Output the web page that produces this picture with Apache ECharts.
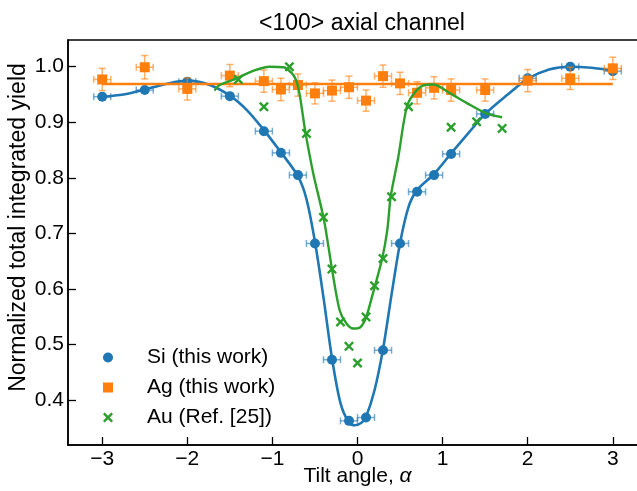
<!DOCTYPE html>
<html>
<head>
<meta charset="utf-8">
<script src="https://cdn.jsdelivr.net/npm/echarts@6/dist/echarts.min.js"></script>
<style>html,body{margin:0;padding:0;background:#fff;}#chart{width:637px;height:491px;}</style>
</head>
<body>
<div id="chart"></div>
<script>
// ---- data ----
const xTicks = [-3, -2, -1, 0, 1, 2, 3];
const yTicks = [0.4, 0.5, 0.6, 0.7, 0.8, 0.9, 1.0];

const siX    = [-3, -2.5, -2, -1.5, -1.1, -0.9, -0.7, -0.5, -0.3, -0.1, 0.1, 0.3, 0.5, 0.7, 0.9, 1.1, 1.5, 2, 2.5, 3];
const siY    = [0.946, 0.958, 0.973, 0.947, 0.884, 0.845, 0.805, 0.682, 0.473, 0.363, 0.369, 0.490, 0.682, 0.775, 0.805, 0.843, 0.915, 0.979, 1.000, 0.992];
const siXErr = [0.1, 0.1, 0.1, 0.1, 0.1, 0.1, 0.1, 0.1, 0.1, 0.1, 0.1, 0.1, 0.1, 0.1, 0.1, 0.1, 0.1, 0.1, 0.1, 0.1];

const agX    = [-3, -2.5, -2, -1.5, -1.1, -0.9, -0.7, -0.5, -0.3, -0.1, 0.1, 0.3, 0.5, 0.7, 0.9, 1.1, 1.5, 2, 2.5, 3];
const agY    = [0.977, 0.999, 0.960, 0.984, 0.974, 0.959, 0.967, 0.952, 0.957, 0.963, 0.939, 0.983, 0.970, 0.953, 0.962, 0.958, 0.958, 0.975, 0.979, 0.997];
const agXErr = [0.1, 0.1, 0.1, 0.1, 0.1, 0.1, 0.1, 0.1, 0.1, 0.1, 0.1, 0.1, 0.1, 0.1, 0.1, 0.1, 0.1, 0.1, 0.1, 0.1];
const agYErr = [0.02, 0.021, 0.02, 0.02, 0.02, 0.02, 0.02, 0.019, 0.019, 0.02, 0.019, 0.02, 0.02, 0.02, 0.02, 0.02, 0.02, 0.02, 0.02, 0.02];

const auX = [-1.4, -1.1, -0.8, -0.6, -0.4, -0.3, -0.2, -0.1, 0.0, 0.1, 0.2, 0.3, 0.4, 0.6, 1.1, 1.4, 1.7];
const auY = [0.977, 0.928, 1.000, 0.880, 0.729, 0.636, 0.541, 0.497, 0.467, 0.550, 0.606, 0.655, 0.766, 0.928, 0.891, 0.901, 0.889];

const siFitX = [-3.0, -2.75, -2.5, -2.25, -2.0, -1.75, -1.5, -1.3, -1.1, -0.9, -0.7, -0.6, -0.5, -0.4, -0.3, -0.2, -0.1, -0.03, 0.05, 0.1, 0.2, 0.3, 0.4, 0.5, 0.6, 0.7, 0.9, 1.1, 1.3, 1.5, 1.75, 2.0, 2.25, 2.5, 2.75, 3.0];
const siFitY = [0.946, 0.950, 0.959, 0.969, 0.975, 0.968, 0.948, 0.922, 0.886, 0.846, 0.803, 0.762, 0.685, 0.585, 0.476, 0.395, 0.360, 0.355, 0.360, 0.370, 0.418, 0.492, 0.590, 0.683, 0.748, 0.778, 0.807, 0.844, 0.880, 0.915, 0.948, 0.978, 0.995, 1.000, 0.998, 0.993];

const agFitX = [-3.0, 3.0];
const agFitY = [0.969, 0.969];

const auFitX = [-1.68, -1.62, -1.42, -1.22, -1.03, -0.87, -0.77, -0.72, -0.68, -0.64, -0.61, -0.52, -0.40, -0.34, -0.30, -0.21, -0.13, -0.05, 0.03, 0.10, 0.17, 0.29, 0.35, 0.39, 0.48, 0.58, 0.68, 0.79, 0.89, 1.09, 1.28, 1.50, 1.70];
const auFitY = [0.957, 0.967, 0.979, 0.993, 1.000, 0.999, 0.988, 0.975, 0.950, 0.910, 0.880, 0.808, 0.729, 0.675, 0.636, 0.562, 0.538, 0.529, 0.531, 0.549, 0.586, 0.655, 0.706, 0.766, 0.838, 0.928, 0.955, 0.967, 0.968, 0.952, 0.935, 0.917, 0.909];

const names = ['Si (this work)', 'Ag (this work)', 'Au (Ref. [25])'];
// ---- styling ----
const BLUE = '#1f77b4', ORANGE = '#ff7f0e', GREEN = '#2ca02c';
const FONT = '"Liberation Sans", Arial, Helvetica, sans-serif';
const XSYM = 'path://M0,1.7 L1.7,0 L5,3.3 L8.3,0 L10,1.7 L6.7,5 L10,8.3 L8.3,10 L5,6.7 L1.7,10 L0,8.3 L3.3,5 Z';

function zip(a, b) { return a.map((v, i) => [v, b[i]]); }

function errRender(color, hasY) {
  return function (params, api) {
    const x = api.value(0), y = api.value(1), ex = api.value(2), ey = api.value(3);
    const c = api.coord([x, y]);
    const l = api.coord([x - ex, y]), r = api.coord([x + ex, y]);
    const cap = 3.5;
    const style = { stroke: color, lineWidth: 1.5, opacity: 0.6 };
    const children = [
      { type: 'line', shape: { x1: l[0], y1: c[1], x2: r[0], y2: c[1] }, style },
      { type: 'line', shape: { x1: l[0], y1: c[1] - cap, x2: l[0], y2: c[1] + cap }, style },
      { type: 'line', shape: { x1: r[0], y1: c[1] - cap, x2: r[0], y2: c[1] + cap }, style }
    ];
    if (hasY) {
      const t = api.coord([x, y + ey]), b = api.coord([x, y - ey]);
      children.push(
        { type: 'line', shape: { x1: c[0], y1: t[1], x2: c[0], y2: b[1] }, style },
        { type: 'line', shape: { x1: c[0] - cap, y1: t[1], x2: c[0] + cap, y2: t[1] }, style },
        { type: 'line', shape: { x1: c[0] - cap, y1: b[1], x2: c[0] + cap, y2: b[1] }, style }
      );
    }
    return { type: 'group', children };
  };
}

const chart = echarts.init(document.getElementById('chart'), null, { renderer: 'canvas' });
chart.setOption({
  animation: false,
  backgroundColor: '#fff',
  title: {
    text: '<100> axial channel',
    left: 357, textAlign: 'center', top: 7,
    textStyle: { fontFamily: FONT, fontSize: 23, fontWeight: 'normal', color: '#000' }
  },
  legend: {
    orient: 'vertical', left: 98, top: 342, itemWidth: 10, itemHeight: 10, itemGap: 9,
    data: [
      { name: names[0], icon: 'circle' },
      { name: names[1], icon: 'rect' },
      { name: names[2], icon: XSYM }
    ],
    textStyle: { fontFamily: FONT, fontSize: 21, color: '#000', padding: [0, 0, 0, 29] }
  },
  grid: { left: 68, top: 40, width: 579, height: 405, outerBoundsMode: 'none', containLabel: false,
    show: true, borderColor: '#000', borderWidth: 1.5, backgroundColor: 'transparent' },
  xAxis: {
    type: 'value', min: -3.402, max: 3.402,
    name: 'Tilt angle, {i|α}', nameLocation: 'middle', nameGap: 21, nameMoveOverlap: false,
    nameTextStyle: { fontFamily: FONT, fontSize: 21, color: '#000', verticalAlign: 'top',
      rich: { i: { fontFamily: FONT, fontSize: 21, fontStyle: 'italic', color: '#000' } } },
    axisLine: { show: true, onZero: false, lineStyle: { color: '#000', width: 1.5 } },
    axisTick: { show: true, inside: true, length: 8, customValues: xTicks, lineStyle: { color: '#000', width: 1.3 } },
    axisLabel: { customValues: xTicks, margin: 4, fontFamily: FONT, fontSize: 21, color: '#000',
      formatter: v => (v < 0 ? '\u2212' + Math.abs(v) : String(v)) },
    splitLine: { show: false }
  },
  yAxis: {
    type: 'value', min: 0.3196, max: 1.048,
    name: 'Normalized total integrated yield', nameLocation: 'middle', nameGap: 38, nameMoveOverlap: false,
    nameTextStyle: { fontFamily: FONT, fontSize: 23, color: '#000', padding: [0, 0, 0, 30] },
    axisLine: { show: true, onZero: false, lineStyle: { color: '#000', width: 1.5 } },
    axisTick: { show: true, inside: true, length: 8, customValues: yTicks, lineStyle: { color: '#000', width: 1.3 } },
    axisLabel: { customValues: yTicks, margin: 4, fontFamily: FONT, fontSize: 21, color: '#000',
      formatter: v => v.toFixed(1) },
    splitLine: { show: false }
  },
  series: [
    { type: 'line', data: zip(siFitX, siFitY), smooth: 0.3, showSymbol: false, symbol: 'none',
      lineStyle: { color: BLUE, width: 2.6 }, z: 2, silent: true },
    { type: 'custom', renderItem: errRender(BLUE, false),
      data: siX.map((v, i) => [v, siY[i], siXErr[i], 0]), z: 3, silent: true },
    { type: 'scatter', name: names[0], data: zip(siX, siY), symbol: 'circle', symbolSize: 10,
      itemStyle: { color: BLUE, opacity: 1 }, z: 4 },
    { type: 'line', data: zip(agFitX, agFitY), showSymbol: false, symbol: 'none',
      lineStyle: { color: ORANGE, width: 2.6 }, z: 5, silent: true },
    { type: 'custom', renderItem: errRender(ORANGE, true),
      data: agX.map((v, i) => [v, agY[i], agXErr[i], agYErr[i]]), z: 6, silent: true },
    { type: 'scatter', name: names[1], data: zip(agX, agY), symbol: 'rect', symbolSize: 10,
      itemStyle: { color: ORANGE, opacity: 1 }, z: 7 },
    { type: 'line', data: zip(auFitX, auFitY), smooth: 0.3, showSymbol: false, symbol: 'none',
      lineStyle: { color: GREEN, width: 2.4 }, z: 8, silent: true },
    { type: 'scatter', name: names[2], data: zip(auX, auY), symbol: XSYM, symbolSize: 10,
      itemStyle: { color: GREEN, opacity: 1 }, z: 9 }
  ]
});
</script>
</body>
</html>
